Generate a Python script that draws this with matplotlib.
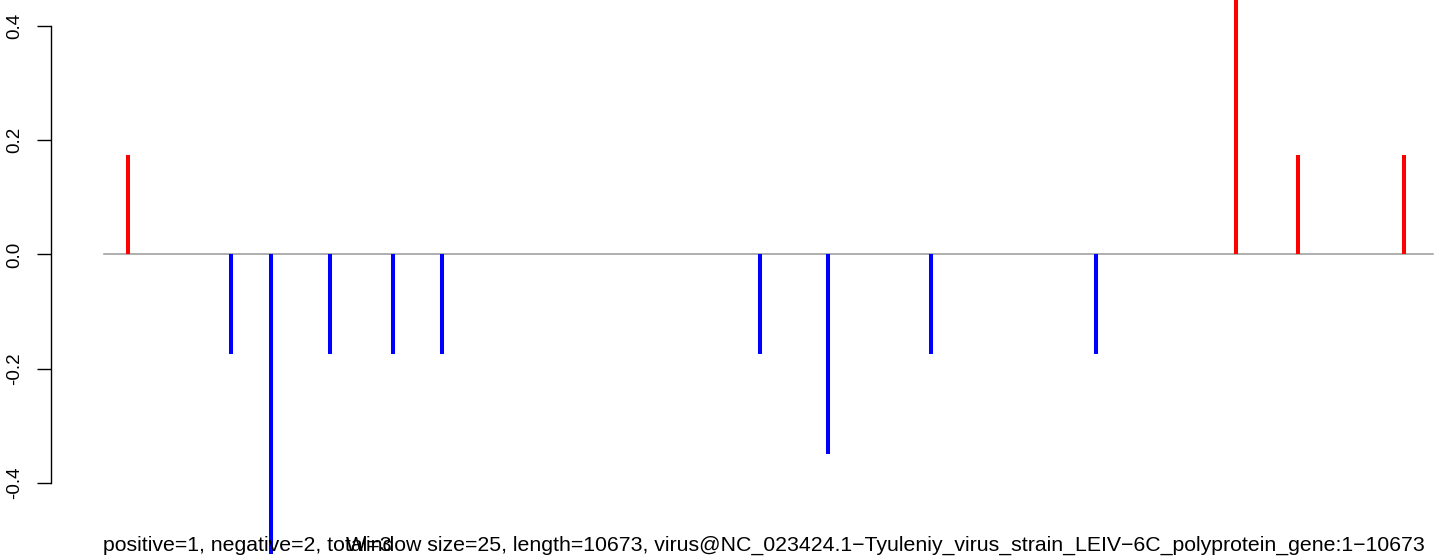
import matplotlib
matplotlib.use("Agg")
import matplotlib.pyplot as plt
import numpy as np

plt.rcParams['font.family'] = ['Liberation Sans', 'DejaVu Sans']

# window positions and scores
seq_length = 10673
positions = [194, 1021, 1342, 1816, 2322, 2715, 5269, 5815, 6642, 7967, 9091, 9589, 10440]
scores = [0.175, -0.175, -0.525, -0.175, -0.175, -0.175, -0.175, -0.35, -0.175, -0.175, 0.525, 0.175, 0.175]
yticks = [-0.4, -0.2, 0.0, 0.2, 0.4]

left_text = "positive=1, negative=2, total=3"
right_text = ("Window size=25, length=10673, "
              "virus@NC_023424.1\u2212Tyuleniy_virus_strain_LEIV\u22126C_polyprotein_gene:1\u221210673")

W, H = 1444, 560
fig = plt.figure(figsize=(W / 100, H / 100), dpi=100)

# R-like plot region: 4% padding on x, axis drawn at left edge
span = seq_length - 1
xlim = (1 - 0.04 * span, seq_length + 0.04 * span)
px_per_unit = (1432 - 103) / span
ax_w = (xlim[1] - xlim[0]) * px_per_unit
ax = fig.add_axes([50.7 / W, 0, ax_w / W, 1])
ax.set_xlim(*xlim)
ax.set_ylim(-0.5348, 0.4455)

# baseline
ax.plot([1, seq_length], [0, 0], color="#999999", lw=1.1, zorder=1)

colors = ["red" if s > 0 else "blue" for s in scores]
ax.vlines(positions, 0, scores, colors=colors, lw=2.9, zorder=2)

for s in ["top", "right", "bottom"]:
    ax.spines[s].set_visible(False)
ax.spines["left"].set_bounds(-0.4, 0.4)
ax.spines["left"].set_linewidth(1.0)
ax.set_xticks([])
ax.set_yticks(yticks)
ax.set_yticklabels([f"{v:.1f}" for v in yticks], rotation=90, va="center")
ax.tick_params(axis="y", length=10, width=1.0, pad=10, labelsize=13.5)

fig.text(103 / W, 1 - 551 / H, left_text, ha="left", va="baseline", fontsize=15.3)
fig.text(1425 / W, 1 - 551 / H, right_text, ha="right", va="baseline", fontsize=15.3)

fig.savefig("out.png", dpi=100)
